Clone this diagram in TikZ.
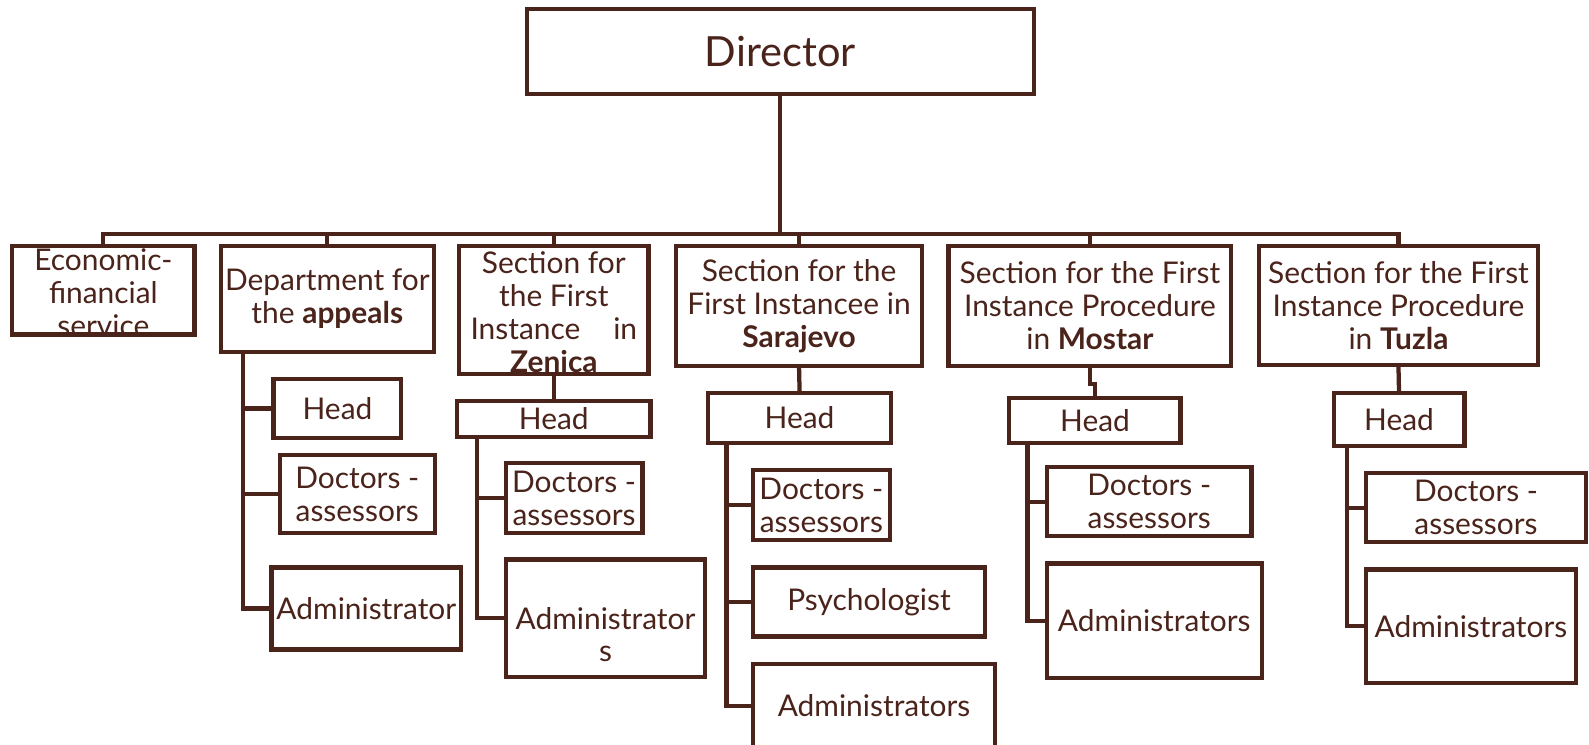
\documentclass[tikz,border=0pt]{standalone}
\usepackage{fontspec}
\setmainfont{Lato}
\definecolor{brn}{RGB}{74,35,27}
\newcommand\mybox[6]{\node[bx, minimum width={(#4-#2)*1pt}, minimum height={(#5-#3)*1pt},
  label={[lbl]center:{#6}}] (#1) at ({(#2+#4)/2},{-(#3+#5)/2}) {};}
\newcommand\myclipbox[6]{\node[bx, minimum width={(#4-#2)*1pt}, minimum height={(#5-#3)*1pt},
  path picture={\node[lbl] at ([yshift=-2pt]path picture bounding box.center) {#6};}] (#1) at ({(#2+#4)/2},{-(#3+#5)/2}) {};}
\begin{document}
\begin{tikzpicture}[x=1pt,y=1pt,
  bx/.style={draw=brn, line width=4.2pt, inner sep=0pt, fill=white},
  lbl/.style={inner sep=0pt, align=center, text=brn, font=\fontsize{29.5}{32.5}\selectfont},
  ln/.style={draw=brn, line width=4.2pt, line cap=rect, line join=miter}]
\useasboundingbox (0,0) rectangle (1568,-735);
\coordinate (busL) at (102,-231);
\coordinate (busR) at (1380,-231);
% boxes
\mybox{dir}{520}{9}{1020}{93}{\fontsize{41}{44}\selectfont Director}
\myclipbox{econ}{12}{243}{192}{330}{Economic-\\financial\\service}
\mybox{appeals}{218}{243}{428}{347}{Department for\\the \textbf{appeals}}
\myclipbox{zen}{453}{243}{640}{369}{Section for\\the First\\Instance\hspace{1.1em}in\\\textbf{Zenica}}
\mybox{sar}{667}{243}{910}{361}{Section for the\\First Instancee in\\\textbf{Sarajevo}}
\mybox{mos}{936}{243}{1215}{361}{Section for the First\\Instance Procedure\\in \textbf{Mostar}}
\mybox{tuz}{1242}{243}{1518}{360}{Section for the First\\Instance Procedure\\in \textbf{Tuzla}}
% appeals
\mybox{aph}{270}{374}{396}{432}{Head}
\mybox{apd}{276}{449}{429}{526}{Doctors -\\assessors}
\mybox{apa}{268}{560}{455}{641}{Administrator}
% zenica
\mybox{zh}{451}{396}{642}{431}{Head}
\mybox{zd}{499}{457}{634}{526}{Doctors -\\assessors}
\node[bx, minimum width=197pt, minimum height=116pt,
  label={[lbl, yshift=-16.25pt]center:{Administrator\\s}}] (za) at (597.5,-610) {};
% sarajevo
\mybox{sh}{699}{388}{879}{437}{Head}
\mybox{sd}{743}{464}{878}{533}{Doctors -\\assessors}
\mybox{sp}{743}{560}{972}{628}{Psychologist}
\mybox{sa}{743}{655}{982}{738}{Administrators}
% mostar
\mybox{mh}{996}{393}{1165}{437}{Head}
\mybox{md}{1033}{461}{1235}{529}{Doctors -\\assessors}
\mybox{ma}{1033}{556}{1245}{669}{Administrators}
% tuzla
\mybox{th}{1316}{388}{1445}{440}{Head}
\mybox{td}{1348}{467}{1565}{535}{Doctors -\\assessors}
\mybox{ta}{1348}{562}{1555}{674}{Administrators}
% connectors
\draw[ln] (dir.south) -- (dir.south |- busL);
\draw[ln] (busL) -- (busR);
\foreach \n in {econ,appeals,zen,sar,mos,tuz} \draw[ln] (\n.north) -- (\n.north |- busL);
% appeals branch
\coordinate (apv) at (240,-347);
\draw[ln] (apv) |- (apa.west);
\draw[ln] (apv |- aph.west) -- (aph.west);
\draw[ln] (apv |- apd.west) -- (apd.west);
% zenica branch
\draw[ln] (zen.south) -- (zh.north);
\coordinate (zv) at (471,-431);
\draw[ln] (zv) |- (za.west);
\draw[ln] (zv |- zd.west) -- (zd.west);
% sarajevo branch
\draw[ln] (sar.south) -- (sh.north);
\coordinate (sv) at (717,-437);
\draw[ln] (sv) |- (sa.west);
\draw[ln] (sv |- sd.west) -- (sd.west);
\draw[ln] (sv |- sp.west) -- (sp.west);
% mostar branch
\draw[ln] (mos.south) -- ++(0,-16) -| (mh.north);
\coordinate (mv) at (1014,-437);
\draw[ln] (mv) |- (ma.west);
\draw[ln] (mv |- md.west) -- (md.west);
% tuzla branch
\draw[ln] (tuz.south) -- (th.north);
\coordinate (tv) at (1329,-440);
\draw[ln] (tv) |- (ta.west);
\draw[ln] (tv |- td.west) -- (td.west);
\end{tikzpicture}
\end{document}
